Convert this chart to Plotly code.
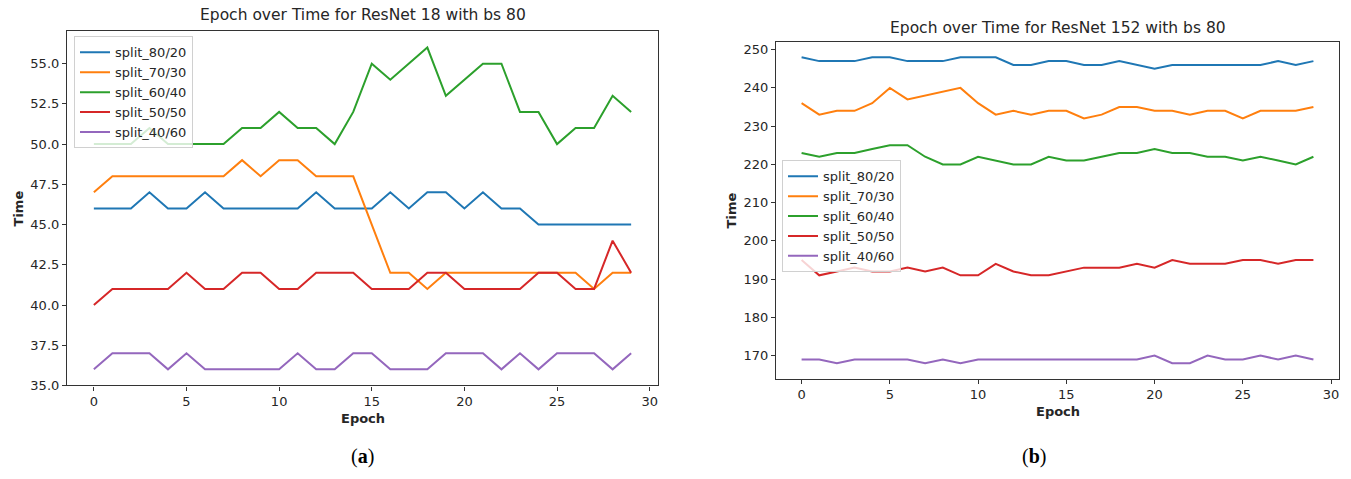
import plotly.graph_objects as go

epochs = list(range(30))
series_names = ["split_80/20", "split_70/30", "split_60/40", "split_50/50", "split_40/60"]
colors = ["#1f77b4", "#ff7f0e", "#2ca02c", "#d62728", "#9467bd"]

# ResNet 18
r18_80_20 = [46, 46, 46, 47, 46, 46, 47, 46, 46, 46, 46, 46, 47, 46, 46, 46, 47, 46, 47, 47, 46, 47, 46, 46, 45, 45, 45, 45, 45, 45]
r18_70_30 = [47, 48, 48, 48, 48, 48, 48, 48, 49, 48, 49, 49, 48, 48, 48, 45, 42, 42, 41, 42, 42, 42, 42, 42, 42, 42, 42, 41, 42, 42]
r18_60_40 = [50, 50, 50, 51, 50, 50, 50, 50, 51, 51, 52, 51, 51, 50, 52, 55, 54, 55, 56, 53, 54, 55, 55, 52, 52, 50, 51, 51, 53, 52]
r18_50_50 = [40, 41, 41, 41, 41, 42, 41, 41, 42, 42, 41, 41, 42, 42, 42, 41, 41, 41, 42, 42, 41, 41, 41, 41, 42, 42, 41, 41, 44, 42]
r18_40_60 = [36, 37, 37, 37, 36, 37, 36, 36, 36, 36, 36, 37, 36, 36, 37, 37, 36, 36, 36, 37, 37, 37, 36, 37, 36, 37, 37, 37, 36, 37]

# ResNet 152
r152_80_20 = [248, 247, 247, 247, 248, 248, 247, 247, 247, 248, 248, 248, 246, 246, 247, 247, 246, 246, 247, 246, 245, 246, 246, 246, 246, 246, 246, 247, 246, 247]
r152_70_30 = [236, 233, 234, 234, 236, 240, 237, 238, 239, 240, 236, 233, 234, 233, 234, 234, 232, 233, 235, 235, 234, 234, 233, 234, 234, 232, 234, 234, 234, 235]
r152_60_40 = [223, 222, 223, 223, 224, 225, 225, 222, 220, 220, 222, 221, 220, 220, 222, 221, 221, 222, 223, 223, 224, 223, 223, 222, 222, 221, 222, 221, 220, 222]
r152_50_50 = [195, 191, 192, 193, 192, 192, 193, 192, 193, 191, 191, 194, 192, 191, 191, 192, 193, 193, 193, 194, 193, 195, 194, 194, 194, 195, 195, 194, 195, 195]
r152_40_60 = [169, 169, 168, 169, 169, 169, 169, 168, 169, 168, 169, 169, 169, 169, 169, 169, 169, 169, 169, 169, 170, 168, 168, 170, 169, 169, 170, 169, 170, 169]

left_ticks = [35.0, 37.5, 40.0, 42.5, 45.0, 47.5, 50.0, 52.5, 55.0]
right_ticks = [170, 180, 190, 200, 210, 220, 230, 240, 250]
x_ticks = [0, 5, 10, 15, 20, 25, 30]

W, H = 1351, 479
fig = go.Figure()

left_data = [r18_80_20, r18_70_30, r18_60_40, r18_50_50, r18_40_60]
right_data = [r152_80_20, r152_70_30, r152_60_40, r152_50_50, r152_40_60]

for name, c, ys in zip(series_names, colors, left_data):
    fig.add_trace(go.Scatter(x=epochs, y=ys, mode="lines", name=name,
                             line=dict(color=c, width=2), xaxis="x", yaxis="y",
                             legend="legend"))
for name, c, ys in zip(series_names, colors, right_data):
    fig.add_trace(go.Scatter(x=epochs, y=ys, mode="lines", name=name,
                             line=dict(color=c, width=2), xaxis="x2", yaxis="y2",
                             legend="legend2"))

TXT = "#262626"
font = dict(family="DejaVu Sans", size=13, color=TXT)
axis_common = dict(showline=True, linecolor="#333", linewidth=1.2, mirror=True,
                   ticks="outside", ticklen=4, tickcolor="#333", showgrid=False,
                   zeroline=False, tickfont=dict(family="DejaVu Sans", size=13, color=TXT))

def px_x(p):
    return p / W

def px_y(p):
    return 1 - p / H

legend_common = dict(xanchor="left", yanchor="top",
                     bgcolor="rgba(255,255,255,0.8)", bordercolor="#d0d0d0", borderwidth=1,
                     font=dict(family="DejaVu Sans", size=13, color=TXT),
                     tracegroupgap=0, itemwidth=30)

fig.update_layout(
    width=W, height=H,
    margin=dict(l=0, r=0, t=0, b=0),
    paper_bgcolor="white", plot_bgcolor="white",
    font=font,
    xaxis=dict(domain=[px_x(67), px_x(658)], range=[-1.45, 30.45], tickvals=x_ticks,
               anchor="y", **axis_common),
    yaxis=dict(domain=[px_y(392), px_y(32)], range=[35, 57], tickvals=left_ticks,
               tickformat=".1f", anchor="x", **axis_common),
    xaxis2=dict(domain=[px_x(776), px_x(1339)], range=[-1.45, 30.45], tickvals=x_ticks,
                anchor="y2", **axis_common),
    yaxis2=dict(domain=[px_y(385), px_y(42.7)], range=[164, 252], tickvals=right_ticks,
                anchor="x2", **axis_common),
    legend=dict(x=px_x(74), y=px_y(37), **legend_common),
    legend2=dict(x=px_x(782), y=px_y(163), **legend_common),
    showlegend=True,
)

ann = []
def add_text(text, x, y, size=13, bold=False, angle=0, family="DejaVu Sans", color=TXT):
    t = f"<b>{text}</b>" if bold else text
    ann.append(dict(text=t, x=px_x(x), y=px_y(y), xref="paper", yref="paper",
                    showarrow=False, xanchor="center", yanchor="middle",
                    textangle=angle, font=dict(family=family, size=size, color=color)))

add_text("Epoch over Time for ResNet 18 with bs 80", 362.5, 15, size=15.5)
add_text("Epoch over Time for ResNet 152 with bs 80", 1057.5, 28, size=15.5)
add_text("Epoch", 362.5, 426, size=13, bold=True)
add_text("Epoch", 1057.5, 418, size=13, bold=True)
add_text("Time", 18, 212, size=13, bold=True, angle=-90)
add_text("Time", 731, 214, size=13, bold=True, angle=-90)
add_text("(<b>a</b>)", 362, 464, size=20, family="Liberation Serif", color="#000")
add_text("(<b>b</b>)", 1034, 464, size=20, family="Liberation Serif", color="#000")
fig.update_layout(annotations=ann)

fig.write_html("out.html")
